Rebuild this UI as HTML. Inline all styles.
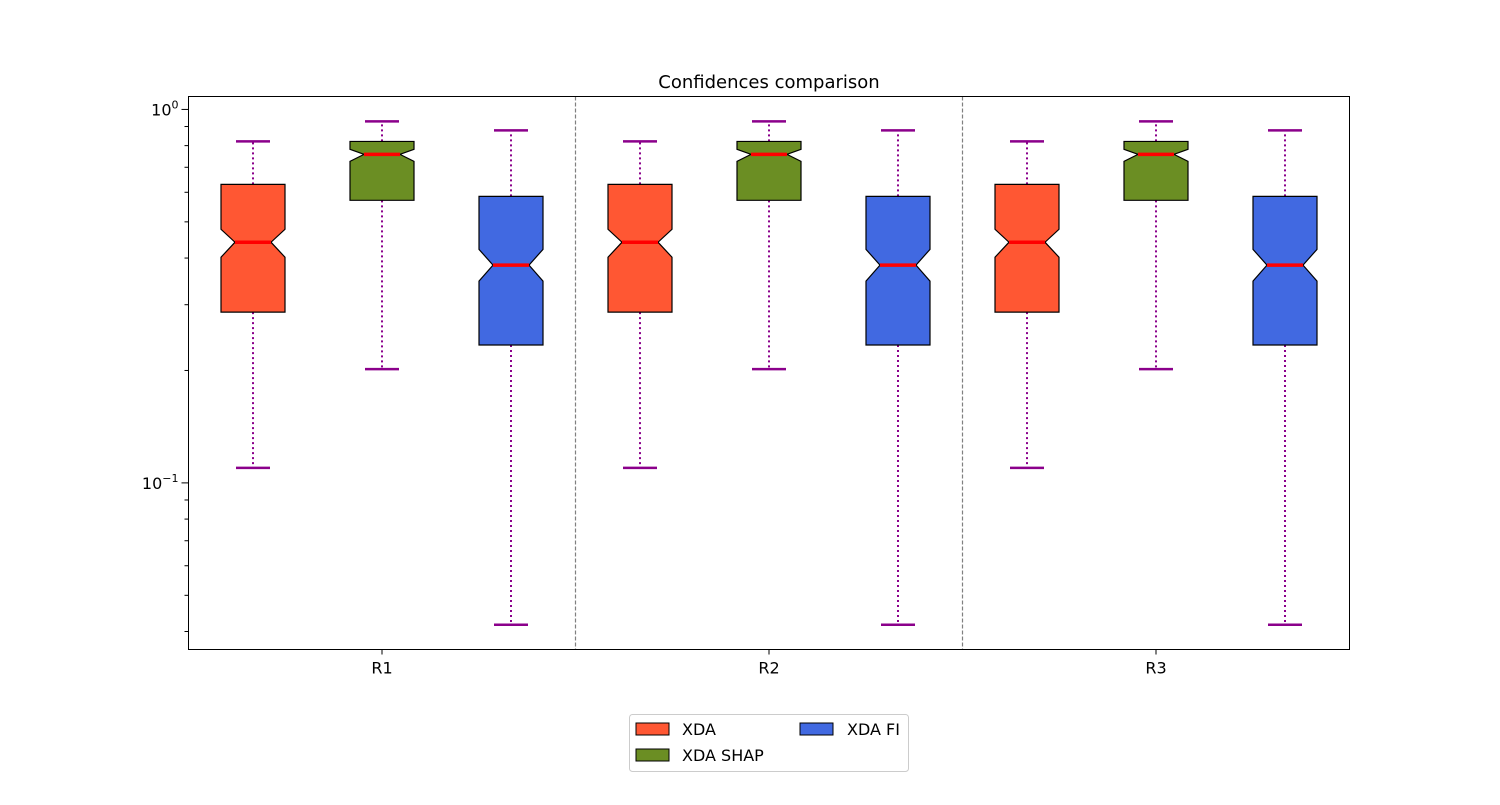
<!DOCTYPE html>
<html><head><meta charset="utf-8"><style>
body{margin:0;background:#fff;}
svg text{font-family:"DejaVu Sans","Liberation Sans",sans-serif;}
</style></head><body>
<svg id="chart" width="1500" height="800" xmlns="http://www.w3.org/2000/svg">
<rect width="1500" height="800" fill="#fff"/>
<text x="769" y="88" font-size="18" text-anchor="middle">Confidences comparison</text>
<g id="plot"></g>
<rect x="188.5" y="96.5" width="1161" height="553" fill="none" stroke="#000" stroke-width="1"/>
<g>
<rect x="629.5" y="714.5" width="279" height="57" rx="3" fill="#fff" stroke="#ccc"/>
<rect x="636" y="723" width="33" height="12" fill="#ff5733" stroke="#000"/>
<text x="682" y="735" font-size="16">XDA</text>
<rect x="636" y="749" width="33" height="12" fill="#6b8e23" stroke="#000"/>
<text x="682" y="761" font-size="16">XDA SHAP</text>
<rect x="800" y="723" width="33" height="12" fill="#4169e1" stroke="#000"/>
<text x="847" y="735" font-size="16">XDA FI</text>
</g>
</svg>
<script>
const groups = ["R1","R2","R3"];
const seriesNames = ["XDA","XDA SHAP","XDA FI"];
const seriesColors = ["#ff5733","#6b8e23","#4169e1"];
// [whiskerLow, q1, notchLow, median, notchHigh, q3, whiskerHigh]
const xdaStats = [0.1097,0.2866,0.402,0.441,0.4776,0.630,0.821];
const shapStats = [0.2017,0.571,0.726,0.758,0.782,0.821,0.929];
const fiStats = [0.0417,0.234,0.347,0.383,0.422,0.585,0.879];
const allStats = [xdaStats, shapStats, fiStats];

const L=188.5,R=1349.5,T=96.5,B=649.5;
const yMin=0.0358,yMax=1.083;
function y(v){return B-(Math.log10(v)-Math.log10(yMin))/(Math.log10(yMax)-Math.log10(yMin))*(B-T);}
function x(i){return L+(i+0.5)/9*(R-L);}
const NS="http://www.w3.org/2000/svg";
const g=document.getElementById('plot');
function mk(tag,attrs,parent){const e=document.createElementNS(NS,tag);for(const k in attrs)e.setAttribute(k,attrs[k]);(parent||g).appendChild(e);return e;}

// y ticks
for(let d=-2;d<=0;d++){
  for(let m=1;m<=9;m++){
    const v=m*Math.pow(10,d);
    if(v<yMin||v>yMax)continue;
    const yy=y(v);
    const t=mk('line',{x1:L,x2:L-(m===1?7:4),y1:yy,y2:yy,stroke:'#000','stroke-width':1});
    
    
    if(m===1){
      const tx=mk('text',{x:L-10,y:yy+6,'font-size':16,'text-anchor':'end'});
      
      
      tx.innerHTML='10<tspan dy="-7" font-size="11">'+(d===0?'0':'\u2212'+(-d))+'</tspan>';
    }
  }
}
// separators
for(let k=1;k<groups.length;k++){
  const xx=L+k*3/9*(R-L);
  const s=mk('line',{x1:xx,x2:xx,y1:T,y2:B,stroke:'#808080','stroke-width':1.2,'stroke-dasharray':'4,2'});
  
  
}
// boxes
const bw=64,inset=14,cap=17;
groups.forEach((gn,gi)=>{
  const xc=x(gi*3+1);
  mk('line',{x1:xc,x2:xc,y1:B,y2:B+5,stroke:'#000'});
  const lt=mk('text',{x:xc,y:B+24,'font-size':16,'text-anchor':'middle'});
  
  
  lt.textContent=gn;
  allStats.forEach((st,si)=>{
    const cx=x(gi*3+si);
    const [wl,q1,nl,md,nh,q3,wh]=st;
    const bg=mk('g',{});
    
    
    mk('line',{x1:cx,x2:cx,y1:y(q3),y2:y(wh),stroke:'#8b008b','stroke-width':2,'stroke-dasharray':'2,3'},bg);
    mk('line',{x1:cx,x2:cx,y1:y(q1),y2:y(wl),stroke:'#8b008b','stroke-width':2,'stroke-dasharray':'2,3'},bg);
    mk('line',{x1:cx-cap,x2:cx+cap,y1:y(wh),y2:y(wh),stroke:'#8b008b','stroke-width':2.5},bg);
    mk('line',{x1:cx-cap,x2:cx+cap,y1:y(wl),y2:y(wl),stroke:'#8b008b','stroke-width':2.5},bg);
    const l=cx-bw/2,r=cx+bw/2;
    const pts=[[l,y(q1)],[r,y(q1)],[r,y(nl)],[r-inset,y(md)],[r,y(nh)],[r,y(q3)],[l,y(q3)],[l,y(nh)],[l+inset,y(md)],[l,y(nl)]];
    mk('polygon',{points:pts.map(p=>p.join(',')).join(' '),fill:seriesColors[si],stroke:'#000','stroke-width':1.2},bg);
    mk('line',{x1:l+inset,x2:r-inset,y1:y(md),y2:y(md),stroke:'#ff0000','stroke-width':3.5},bg);
  });
});
</script>
</body></html>
